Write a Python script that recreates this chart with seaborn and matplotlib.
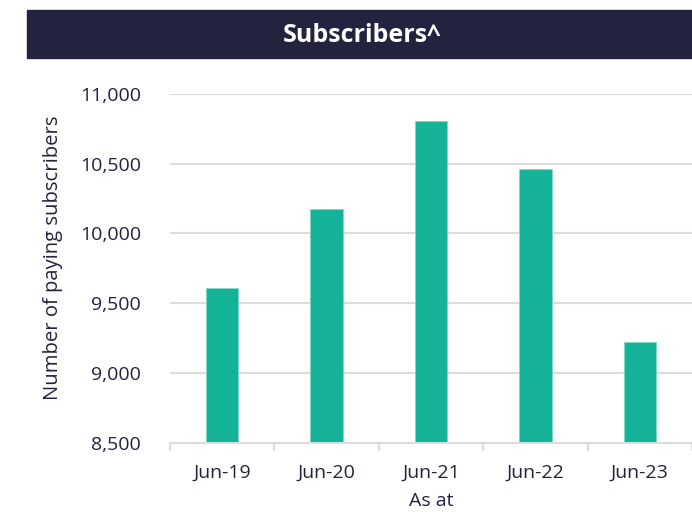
import numpy as np
import pandas as pd
import matplotlib.pyplot as plt
import seaborn as sns
from matplotlib.patches import Rectangle
from matplotlib.ticker import FuncFormatter, FixedLocator

# Datos
periodos = ['Jun-19', 'Jun-20', 'Jun-21', 'Jun-22', 'Jun-23']
suscriptores = [9610, 10175, 10805, 10460, 9225]

df = pd.DataFrame({'Periodo': periodos, 'Suscriptores': suscriptores})

NAVY = '#24233F'
TEAL = '#14B397'
GRID = '#DCDCDC'

sns.set_theme(style='white')
plt.rcParams['font.family'] = ['Open Sans', 'DejaVu Sans']

fig = plt.figure(figsize=(6.92, 5.12), dpi=100)
ax = fig.add_axes([170 / 692, 1 - 443 / 512, 522 / 692, (443 - 93.7) / 512])

sns.barplot(data=df, x='Periodo', y='Suscriptores', color=TEAL, width=0.31,
            saturation=1, ax=ax, edgecolor='#7FD8C6', linewidth=0.6)

ax.set_ylim(8500, 11000)
ax.set_xlim(-0.5, len(periodos) - 0.5)
ax.set_yticks(np.arange(8500, 11001, 500))
ax.yaxis.set_major_formatter(FuncFormatter(lambda v, p: f'{v:,.0f}'))
ax.grid(axis='y', color=GRID, linewidth=1.5)
ax.set_axisbelow(True)

for s in ['top', 'right', 'left']:
    ax.spines[s].set_visible(False)
ax.spines['bottom'].set_color(GRID)
ax.spines['bottom'].set_linewidth(1.5)

# marcas entre categorías
ax.xaxis.set_minor_locator(FixedLocator(np.arange(-0.5, len(periodos), 1)))
ax.tick_params(axis='x', which='minor', length=6, width=1.5, color=GRID, bottom=True)
ax.tick_params(axis='x', which='major', length=0, pad=15, labelsize=14, labelcolor=NAVY)
ax.tick_params(axis='y', length=0, pad=21, labelsize=14, labelcolor=NAVY)

ax.set_xlabel('As at', fontsize=14, color=NAVY, labelpad=7)
ax.set_ylabel('Number of paying subscribers', fontsize=14.6, color=NAVY)
ax.yaxis.set_label_coords(-0.205, 0.53)

# Barra del título
fig.patches.append(Rectangle((27 / 692, 1 - 58 / 512), 665 / 692, 48 / 512,
                             transform=fig.transFigure, color=NAVY, zorder=0))
fig.text(362 / 692, 1 - 36 / 512, 'Subscribers^', color='white', fontsize=18,
         fontweight='bold', ha='center', va='center')

fig.savefig('out.png', dpi=100)
